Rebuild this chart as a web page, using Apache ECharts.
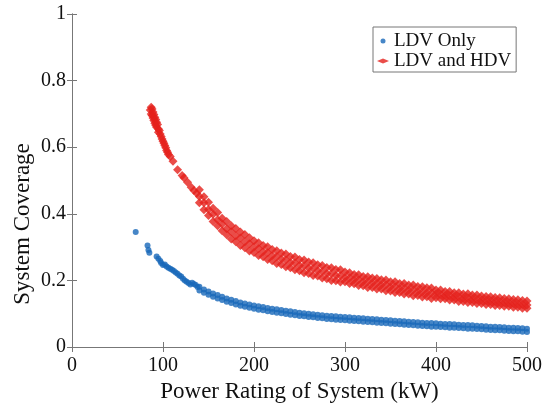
<!DOCTYPE html>
<html>
<head>
<meta charset="utf-8">
<script src="https://cdn.jsdelivr.net/npm/echarts@6/dist/echarts.min.js"></script>
<style>
  html, body { margin: 0; padding: 0; background: #fff; }
  #chart { width: 547px; height: 404px; }
</style>
</head>
<body>
<div id="chart"></div>
<script>
const yTicks = [0, 0.2, 0.4, 0.6, 0.8, 1]

// LDV Only: sparse points at low power, then a band [x, upper, lower]
const ldvSparse = [
  [70, 0.345], [83, 0.305], [84, 0.291], [85, 0.283], [93, 0.272], [95, 0.265],
  [97, 0.258], [98, 0.252], [100, 0.246], [102, 0.248], [104, 0.242], [106, 0.238],
  [108, 0.235], [110, 0.232], [112, 0.228], [114, 0.224], [116, 0.220], [118, 0.215],
  [120, 0.212], [122, 0.205], [124, 0.200], [126, 0.196], [128, 0.192], [130, 0.188],
  [132, 0.193], [134, 0.189], [136, 0.186], [138, 0.180]
]
const ldvBand = [
  [140, .181, .170], [145, .173, .163], [150, .167, .157], [155, .161, .151],
  [160, .156, .146], [165, .151, .141], [170, .146, .136], [175, .142, .132],
  [180, .138, .128], [185, .134, .124], [190, .131, .121], [195, .128, .118],
  [200, .125, .115], [205, .122, .112], [210, .120, .110], [215, .117, .107],
  [220, .115, .105], [225, .113, .103], [230, .111, .101], [235, .109, .099],
  [240, .107, .097], [245, .105, .095], [250, .103, .093], [255, .101, .092],
  [260, .100, .090], [265, .098, .089], [270, .097, .087], [275, .095, .086],
  [280, .094, .084], [285, .093, .083], [290, .092, .082], [295, .091, .081],
  [300, .090, .080], [305, .089, .079], [310, .088, .078], [315, .087, .077],
  [320, .086, .076], [325, .085, .075], [330, .084, .074], [335, .083, .073],
  [340, .082, .072], [345, .081, .071], [350, .080, .070], [355, .079, .069],
  [360, .078, .068], [365, .077, .067], [370, .076, .066], [375, .075, .065],
  [380, .074, .064], [385, .073, .063], [390, .072, .062], [395, .072, .061],
  [400, .071, .061], [405, .070, .060], [410, .069, .059], [415, .069, .058],
  [420, .068, .058], [425, .067, .057], [430, .066, .056], [435, .066, .055],
  [440, .065, .055], [445, .064, .054], [450, .063, .053], [455, .062, .052],
  [460, .061, .051], [465, .061, .050], [470, .060, .050], [475, .059, .049],
  [480, .058, .048], [485, .058, .047], [490, .057, .047], [495, .056, .046],
  [500, .055, .045]
]

// LDV and HDV: steep cluster, sparse tail, then a band [x, upper, mid, lower]
const hdvSparse = [
  [86, 0.712], [87, 0.720], [87, 0.700], [88, 0.715], [88, 0.695], [89, 0.706],
  [89, 0.688], [90, 0.698], [90, 0.680], [91, 0.690], [91, 0.672], [92, 0.683],
  [92, 0.666], [93, 0.675], [93, 0.660], [94, 0.668], [95, 0.655], [95, 0.645],
  [96, 0.650], [97, 0.640], [98, 0.632], [99, 0.625], [100, 0.618], [101, 0.612],
  [102, 0.605], [103, 0.598], [104, 0.590], [105, 0.585], [106, 0.578],
  [108, 0.572], [111, 0.558], [116, 0.532], [121, 0.515], [123, 0.508],
  [127, 0.495], [131, 0.480], [134, 0.470], [137, 0.462]
]
const hdvBand = [
  [140, .472, .452, .433], [145, .451, .433, .412], [150, .435, .413, .395],
  [155, .417, .399, .377], [160, .404, .382, .364], [165, .387, .369, .349],
  [170, .377, .355, .337], [175, .364, .346, .324], [180, .356, .334, .316],
  [185, .345, .327, .305], [190, .338, .316, .298], [195, .328, .310, .288],
  [200, .319, .300, .284], [205, .313, .295, .275], [210, .305, .287, .271],
  [215, .301, .283, .263], [220, .293, .275, .259], [225, .289, .271, .251],
  [230, .282, .264, .248], [235, .279, .261, .241], [240, .272, .254, .238],
  [245, .270, .252, .232], [250, .263, .245, .229], [255, .261, .243, .223],
  [260, .255, .237, .221], [265, .253, .235, .215], [270, .247, .229, .213],
  [275, .245, .227, .207], [280, .239, .221, .205], [285, .238, .220, .200],
  [290, .233, .215, .199], [295, .232, .214, .195], [300, .225, .209, .196],
  [305, .223, .207, .191], [310, .218, .203, .190], [315, .217, .202, .185],
  [320, .212, .197, .184], [325, .211, .196, .179], [330, .207, .192, .179],
  [335, .206, .191, .174], [340, .202, .187, .174], [345, .201, .186, .169],
  [350, .196, .181, .168], [355, .196, .181, .164], [360, .191, .176, .164],
  [365, .191, .176, .159], [370, .186, .171, .159], [375, .186, .171, .154],
  [380, .182, .167, .155], [385, .181, .166, .150], [390, .178, .163, .151],
  [395, .177, .162, .146], [400, .171, .159, .148], [405, .171, .158, .145],
  [410, .167, .155, .145], [415, .167, .154, .141], [420, .163, .151, .141],
  [425, .163, .150, .137], [430, .159, .147, .137], [435, .160, .147, .134],
  [440, .156, .144, .134], [445, .156, .143, .131], [450, .153, .141, .131],
  [455, .152, .140, .128], [460, .151, .138, .128], [465, .149, .137, .125],
  [470, .148, .135, .125], [475, .146, .134, .122], [480, .145, .132, .122],
  [485, .143, .131, .119], [490, .142, .129, .119], [495, .140, .128, .116],
  [500, .138, .126, .116]
]

const BLUE = '#1868b9'
const RED = '#e5211c'
const FONT = '"Liberation Serif", "DejaVu Serif", serif'
const AXIS_COLOR = '#777'

const toPoints = (rows) => {
  const pts = []
  rows.forEach(r => {
    for (let i = 1; i < r.length; i++) pts.push([r[0], r[i]])
  })
  return pts
}

const ldvData = ldvSparse.concat(toPoints(ldvBand))
const hdvData = hdvSparse.concat(toPoints(hdvBand))

const chart = echarts.init(document.getElementById('chart'))

const axisLine = { show: true, lineStyle: { color: AXIS_COLOR, width: 1 } }
const axisTick = { show: true, inside: true, length: 5, lineStyle: { color: AXIS_COLOR } }

chart.setOption({
  animation: false,
  backgroundColor: '#fff',
  grid: { left: 72, right: 20, top: 14, bottom: 57, containLabel: false, outerBoundsMode: 'none' },
  legend: {
    orient: 'vertical',
    left: 373,
    top: 27,
    itemWidth: 12,
    itemHeight: 5,
    itemGap: 0,
    padding: [4, 5, 1, 4],
    borderColor: '#777',
    borderWidth: 1,
    backgroundColor: '#fff',
    textStyle: { fontFamily: FONT, fontSize: 19, lineHeight: 20, color: '#111' },
    data: [
      { name: 'LDV Only', icon: 'circle' },
      { name: 'LDV and HDV', icon: 'diamond' }
    ]
  },
  graphic: [{
    type: 'text',
    x: 23,
    y: 224,
    rotation: Math.PI / 2,
    style: {
      text: 'System Coverage',
      fontFamily: FONT,
      fontSize: 23,
      fill: '#111',
      align: 'center',
      verticalAlign: 'middle'
    }
  }],
  xAxis: [
    {
      type: 'value',
      min: 0,
      max: 500,
      interval: 100,
      name: 'Power Rating of System (kW)',
      nameLocation: 'middle',
      nameGap: 33,
      nameTextStyle: { fontFamily: FONT, fontSize: 23, color: '#111' },
      axisLine: axisLine,
      axisTick: axisTick,
      axisLabel: { fontFamily: FONT, fontSize: 20, color: '#111', margin: 9 },
      splitLine: { show: false }
    },
    {
      type: 'value',
      position: 'top',
      min: 0,
      max: 500,
      interval: 100,
      axisLine: axisLine,
      axisTick: axisTick,
      axisLabel: { show: false },
      splitLine: { show: false }
    }
  ],
  yAxis: [
    {
      type: 'value',
      min: 0,
      max: 1,
      interval: 0.2,
      axisLine: axisLine,
      axisTick: axisTick,
      axisLabel: {
        fontFamily: FONT, fontSize: 20, color: '#111', margin: 6,
        formatter: (v) => yTicks.includes(+v.toFixed(1)) ? String(+v.toFixed(1)) : ''
      },
      splitLine: { show: false }
    },
    {
      type: 'value',
      position: 'right',
      min: 0,
      max: 1,
      interval: 0.2,
      axisLine: axisLine,
      axisTick: axisTick,
      axisLabel: { show: false },
      splitLine: { show: false }
    }
  ],
  series: [
    {
      name: 'LDV Only',
      type: 'scatter',
      symbol: 'circle',
      symbolSize: 6,
      itemStyle: { color: BLUE },
      data: ldvData
    },
    {
      name: 'LDV and HDV',
      type: 'scatter',
      symbol: 'diamond',
      symbolSize: 9,
      itemStyle: { color: RED },
      data: hdvData
    }
  ]
})
</script>
</body>
</html>
